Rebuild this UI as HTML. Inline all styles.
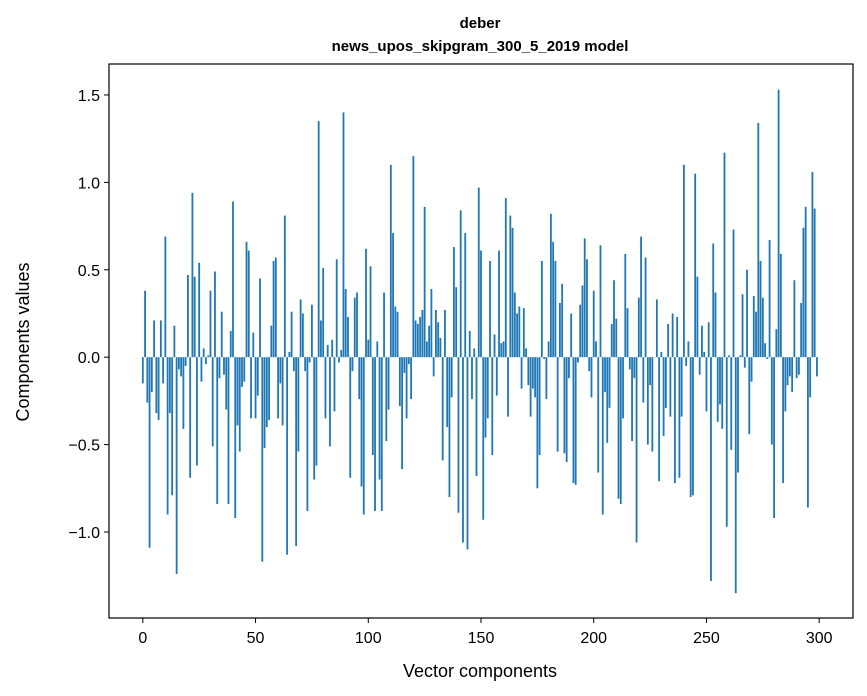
<!DOCTYPE html>
<html><head><meta charset="utf-8"><style>
body{margin:0;background:#fff;}
svg{display:block;font-family:"Liberation Sans","DejaVu Sans",sans-serif;}
</style></head><body>
<svg id="chart" width="867" height="696">
<rect width="867" height="696" fill="#fff"/>
<text x="480" y="28" text-anchor="middle" font-size="15" font-weight="bold">deber</text>
<text x="480" y="51" text-anchor="middle" font-size="15" font-weight="bold">news_upos_skipgram_300_5_2019 model</text>
<g id="bars"></g>
<rect x="109" y="64" width="744" height="554" fill="none" stroke="#000" stroke-width="1.2"/>
<g id="xt"></g>
<g id="yt"></g>
<text x="480" y="677" text-anchor="middle" font-size="18">Vector components</text>
<text transform="translate(29,342) rotate(-90)" text-anchor="middle" font-size="18">Components values</text>
</svg>
<script>
const values = [
-0.15,0.38,-0.26,-1.09,-0.20,0.21,-0.32,-0.36,0.21,-0.15,
0.69,-0.90,-0.32,-0.79,0.18,-1.24,-0.07,-0.11,-0.41,-0.05,
0.47,-0.69,0.94,0.46,-0.62,0.54,-0.14,0.05,-0.04,0.01,
0.38,-0.51,0.49,-0.84,-0.12,0.26,-0.10,-0.30,-0.84,0.15,
0.89,-0.92,-0.39,-0.54,-0.17,-0.14,0.66,0.61,-0.35,0.14,
-0.35,-0.22,0.45,-1.17,-0.52,-0.40,-0.36,0.18,0.55,0.57,
-0.35,-0.15,-0.39,0.81,-1.13,0.03,0.26,-0.08,-1.08,-0.54,
0.33,0.25,-0.08,-0.88,-0.03,0.30,-0.70,-0.62,1.35,0.21,
0.51,-0.35,0.07,-0.51,0.10,-0.31,0.56,-0.03,0.04,1.40,
0.39,0.23,-0.69,-0.08,0.34,0.37,-0.24,-0.74,-0.90,0.62,
0.10,0.52,-0.56,-0.88,0.09,-0.70,-0.88,0.37,-0.48,-0.30,
1.10,0.71,0.29,0.26,-0.28,-0.64,-0.09,-0.35,-0.04,-0.24,
1.15,0.21,0.19,0.23,0.27,0.86,0.09,0.18,0.39,-0.11,
0.27,0.20,0.11,-0.59,0.27,-0.40,-0.80,-0.23,0.63,0.40,
-0.89,0.84,-1.06,0.71,-1.10,0.15,-0.24,0.05,-0.68,0.97,
0.61,-0.93,-0.46,-0.35,0.55,-0.56,0.13,-0.22,0.61,0.08,
0.09,0.91,-0.34,0.81,0.74,0.37,0.25,0.29,-0.18,0.28,
0.05,-0.16,-0.34,-0.18,-0.23,-0.75,-0.56,0.55,-0.01,-0.24,
0.09,0.82,0.66,0.55,-0.54,0.31,0.42,-0.55,-0.60,-0.12,
0.25,-0.72,-0.73,-0.03,0.30,0.41,0.68,0.56,-0.08,-0.23,
0.38,0.09,-0.66,0.64,-0.90,-0.20,-0.49,-0.29,0.19,0.44,
0.22,-0.81,-0.84,-0.35,0.59,0.28,-0.07,-0.48,-0.12,-1.06,
0.34,0.69,-0.26,0.57,-0.50,-0.16,-0.54,0.00,0.33,-0.71,
0.03,-0.45,-0.29,0.19,-0.34,0.25,-0.72,0.23,-0.69,-0.34,
1.10,-0.05,0.09,-0.80,-0.79,1.05,0.46,-0.10,0.18,0.03,
-0.31,0.20,-1.28,0.65,0.37,-0.37,-0.27,-0.41,1.17,-0.97,
0.01,-0.53,0.73,-1.35,-0.66,0.01,0.36,-0.06,0.50,-0.44,
-0.14,0.35,0.26,1.34,0.55,0.34,0.08,-0.01,0.67,-0.50,
-0.92,0.16,1.53,0.59,-0.72,-0.31,-0.16,-0.11,-0.20,0.44,
-0.12,-0.10,0.31,0.74,0.86,-0.86,-0.23,1.06,0.85,-0.11
];
const xTicks = [0,50,100,150,200,250,300];
const yTicks = [-1.0,-0.5,0.0,0.5,1.0,1.5];
const yTickLabels = ["\u22121.0","\u22120.5","0.0","0.5","1.0","1.5"];

const NS="http://www.w3.org/2000/svg";
const L=109,R=853,T=64,B=618;
const xMin=-15,xMax=315,yMin=-1.492,yMax=1.677;
function xs(v){return L+(v-xMin)/(xMax-xMin)*(R-L);}
function ys(v){return B-(v-yMin)/(yMax-yMin)*(B-T);}
const bars=document.getElementById('bars');
values.forEach((v,i)=>{
  const r=document.createElementNS(NS,'rect');
  const x0=xs(i-0.4),x1=xs(i+0.4);
  const y0=ys(Math.max(v,0)),y1=ys(Math.min(v,0));
  r.setAttribute('x',x0);r.setAttribute('width',x1-x0);
  r.setAttribute('y',y0);r.setAttribute('height',Math.max(y1-y0,0.3));
  r.setAttribute('fill','#1f77b4');
  
  
  bars.appendChild(r);
});
const xt=document.getElementById('xt');
xTicks.forEach(t=>{
  const x=xs(t);
  const l=document.createElementNS(NS,'line');
  l.setAttribute('x1',x);l.setAttribute('x2',x);l.setAttribute('y1',B);l.setAttribute('y2',B+5);
  l.setAttribute('stroke','#000');
  
  
  xt.appendChild(l);
  const s=document.createElementNS(NS,'text');
  s.setAttribute('x',x);s.setAttribute('y',B+25);s.setAttribute('text-anchor','middle');s.setAttribute('font-size','16');
  s.textContent=t;
  
  
  xt.appendChild(s);
});
const yt=document.getElementById('yt');
yTicks.forEach((t,k)=>{
  const y=ys(t);
  const l=document.createElementNS(NS,'line');
  l.setAttribute('x1',L-5);l.setAttribute('x2',L);l.setAttribute('y1',y);l.setAttribute('y2',y);
  l.setAttribute('stroke','#000');
  
  
  yt.appendChild(l);
  const s=document.createElementNS(NS,'text');
  s.setAttribute('x',L-9);s.setAttribute('y',y+6);s.setAttribute('text-anchor','end');s.setAttribute('font-size','16');
  s.textContent=yTickLabels[k];
  
  
  yt.appendChild(s);
});
</script>
</body></html>
